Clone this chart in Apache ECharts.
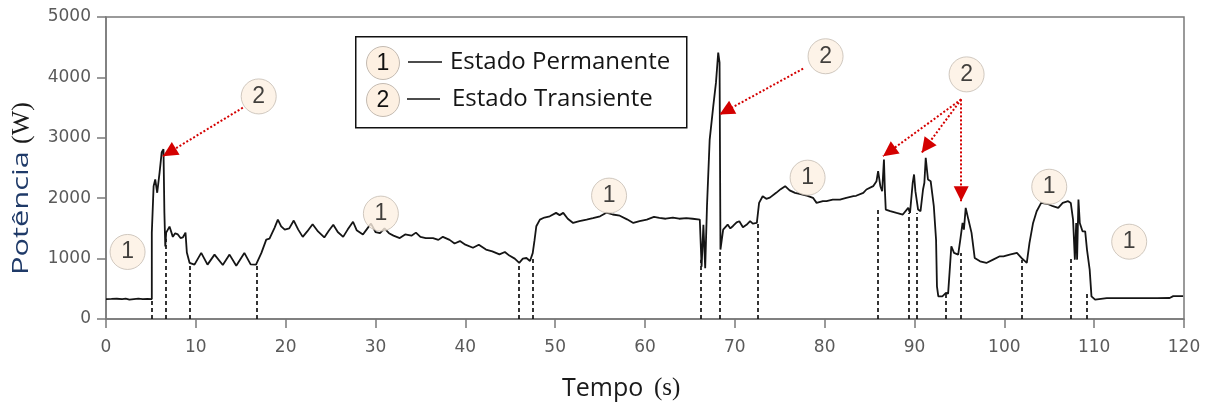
<!DOCTYPE html>
<html>
<head>
<meta charset="utf-8">
<script src="https://cdn.jsdelivr.net/npm/echarts@6/dist/echarts.min.js"></script>
<style>html,body{margin:0;padding:0;background:#fff}#c{width:1209px;height:405px}</style>
</head>
<body>
<div id="c"></div>
<script>
// ---- data ----
const timeS = [0,0.6,1.2,1.8,2.2,2.6,3.1,3.6,4.1,4.6,5.1,
5.1,5.3,5.48,5.7,5.96,6.2,6.4,6.5,6.6,6.7,7.07,7.44,7.7,8.0,8.3,8.55,8.85,9.0,9.3,9.85,10.6,11.3,12.08,13.0,13.75,14.5,15.4,16.1,16.7,
17.3,17.84,18.2,18.76,19.13,19.5,19.9,20.4,20.9,21.4,21.9,22.4,23.0,23.6,24.3,24.8,25.3,25.8,26.4,26.9,27.5,27.9,28.6,29.0,29.5,30.0,30.5,31.0,31.5,32.0,32.7,33.3,34.0,34.5,35.0,35.6,36.4,37.0,37.5,38.25,38.8,39.4,40.0,40.85,41.5,42.3,43.0,43.8,44.4,44.9,45.5,46.0,46.4,46.8,47.2,47.5,47.7,47.9,48.3,
48.8,49.4,50.1,50.5,50.9,51.4,52.0,52.7,53.5,54.2,55.0,55.7,56.4,57.2,58.0,58.7,59.4,60.2,61.0,61.6,62.3,63.1,63.8,64.6,65.3,66.1,
66.2,66.3,66.5,66.7,66.9,67.2,67.6,67.9,68.15,68.3,68.4,68.7,69.2,69.5,69.8,70.2,70.5,70.9,71.3,71.7,72.0,72.45,72.7,73.1,73.5,73.9,74.6,75.1,75.6,76.1,76.7,77.2,78.1,78.7,79.1,79.8,80.2,80.9,81.7,82.4,83.2,83.5,84.3,84.65,85.4,85.77,85.95,86.2,86.4,86.6,86.7,86.8,87.3,88.0,88.7,89.3,89.5,89.8,89.95,90.1,90.4,90.67,90.95,91.1,91.25,91.5,91.8,92.15,92.4,92.5,92.65,93.1,93.5,93.74,93.9,94.1,94.4,94.86,95.1,95.35,95.5,95.7,96.0,96.35,96.7,97.3,98.0,98.75,99.5,99.9,100.6,101.4,101.9,102.5,102.8,103.2,103.6,104.1,104.9,105.4,106.0,106.5,107.1,107.4,107.65,107.85,108.0,108.1,108.25,108.4,108.7,109.0,109.2,109.5,109.7,110.1,111.4,113,115,117,118.4,118.8,119.9];
const powerW = [330,332,335,330,338,322,330,336,330,332,330,
1430,2200,2310,2090,2420,2760,2810,1760,1200,1430,1530,1360,1420,1400,1340,1350,1430,1100,930,900,1094,900,1066,895,1066,883,1094,905,900,
1094,1315,1330,1509,1646,1535,1480,1500,1630,1480,1360,1450,1570,1450,1350,1460,1560,1440,1360,1480,1610,1470,1400,1480,1580,1440,1420,1500,1420,1380,1340,1400,1380,1430,1360,1340,1340,1310,1360,1310,1250,1290,1230,1180,1230,1150,1120,1070,1110,1050,1000,930,1000,1010,960,1090,1300,1535,1646,
1680,1700,1757,1720,1757,1660,1590,1620,1646,1670,1700,1760,1730,1710,1650,1590,1620,1646,1690,1673,1660,1680,1660,1670,1660,1646,
1640,867,1560,840,1867,2971,3525,3913,4410,4244,1149,1480,1563,1500,1540,1600,1618,1520,1560,1620,1580,1590,1923,2033,1990,2010,2089,2150,2199,2130,2089,2070,2040,2006,1923,1950,1950,1978,1978,2006,2033,2040,2089,2144,2199,2282,2448,2199,2116,2641,2144,1812,1785,1757,1730,1840,1757,2255,2393,2116,1812,1785,2144,2255,2669,2310,2282,1867,1315,541,375,375,431,420,763,1204,1094,1066,1315,1591,1480,1840,1646,1426,1011,955,928,983,1038,1038,1066,1094,1011,928,1260,1591,1784,1923,1900,1867,1840,1923,1950,1920,1646,983,1590,983,1978,1590,1452,1452,1149,817,375,320,345,345,345,345,348,378,380];

// steady/transient region boundaries (dashed lines): time and top power
const dashX   = [5.1,6.7,9.3,16.8,46.0,47.5,66.2,68.3,72.5,85.9,89.4,90.2,93.5,95.1,101.9,107.4,109.2];
const dashTop = [330,1330,930,900,930,1040,980,1150,1590,1840,1757,1757,431,1094,983,1038,431];

// circled labels
const annX    = [2.4,17.0,30.6,56.0,80.1,78.1,95.8,105.0,113.9];
const annY    = [1110,3685,1745,2043,4350,2340,4050,2190,1280];
const annText = ['1','2','1','1','2','1','2','1','1'];

// red dotted arrows: from -> to (tip)
const arrowFromX = [15.23,77.6,95.2,95.2,95.2];
const arrowFromY = [3498,4145,3636,3636,3636];
const arrowToX   = [6.33,68.3,86.5,90.8,95.2];
const arrowToY   = [2696,3387,2696,2752,1950];

const xTicks = {min:0, max:120, interval:10};
const yTicks = {min:0, max:5000, interval:1000};
const legendTexts = ['Estado Permanente','Estado Transiente'];
const legendNums = ['1','2'];
const yTitle = ['Potência','(W)'];
const xTitle = ['Tempo','(s)'];

// ---- chart ----
const lineData = timeS.map((t,i)=>[t,powerW[i]]);
const annData = annX.map((x,i)=>[x,annY[i],annText[i]]);
const dashData = dashX.map((x,i)=>[{coord:[x,0]},{coord:[x,dashTop[i]]}]);
const arrowData = arrowFromX.map((x,i)=>[{coord:[x,arrowFromY[i]]},{coord:[arrowToX[i],arrowToY[i]]}]);

const chart = echarts.init(document.getElementById('c'), null, {renderer:'canvas'});
const axisCol = '#7a7a7a';
const labelFont = {color:'#5a5a5a', fontFamily:'DejaVu Sans', fontSize:17};
const peach = '#fdf0e2', ring = '#c4bbb2';
const red = '#d40000';

const baseGraphic = [
    {type:'rect', left:355, top:36, shape:{width:331, height:91}, style:{fill:'#fff', stroke:'#111', lineWidth:1.5}, z:10},
    {type:'circle', shape:{cx:383, cy:63, r:16.5}, style:{fill:peach, stroke:ring, lineWidth:1}, z:11},
    {type:'circle', shape:{cx:383, cy:100, r:16.5}, style:{fill:peach, stroke:ring, lineWidth:1}, z:11},
    {type:'text', x:383, y:64, style:{text:legendNums[0], fill:'#111', font:'23px "Liberation Sans"', align:'center', verticalAlign:'middle'}, z:12},
    {type:'text', x:383, y:101, style:{text:legendNums[1], fill:'#111', font:'23px "Liberation Sans"', align:'center', verticalAlign:'middle'}, z:12},
    {type:'line', shape:{x1:408, y1:62, x2:442, y2:62}, style:{stroke:'#111', lineWidth:1.3}, z:11},
    {type:'line', shape:{x1:407, y1:99, x2:440, y2:99}, style:{stroke:'#111', lineWidth:1.3}, z:11},
    {type:'text', x:450, y:62, style:{text:legendTexts[0], fill:'#151515', font:'24px "Open Sans"', align:'left', verticalAlign:'middle'}, z:12},
    {type:'text', x:452, y:99, style:{text:legendTexts[1], fill:'#151515', font:'24px "Open Sans"', align:'left', verticalAlign:'middle'}, z:12},
    {type:'text', x:562, y:389, style:{text:xTitle[0], fill:'#1a1a1a', font:'25px "Open Sans"', align:'left', verticalAlign:'middle'}, z:12},
    {type:'text', x:654, y:388, style:{text:xTitle[1], fill:'#1a1a1a', font:'25px "Liberation Serif"', align:'left', verticalAlign:'middle'}, z:12},
    {type:'text', x:22, y:275, rotation:Math.PI/2, scaleX:1.4, style:{text:yTitle[0], fill:'#1f3a68', font:'22px "Open Sans"', align:'left', verticalAlign:'middle'}, z:12},
    {type:'text', x:22, y:144, rotation:Math.PI/2, style:{text:yTitle[1], fill:'#1a1a1a', font:'26px "Liberation Serif"', align:'left', verticalAlign:'middle'}, z:12}
];

chart.setOption({
  animation:false,
  grid:{left:106, right:25, top:17, bottom:86, show:true, borderColor:axisCol, borderWidth:1.5, backgroundColor:'transparent'},
  xAxis:{type:'value', min:xTicks.min, max:xTicks.max, interval:xTicks.interval,
    axisLine:{show:true, lineStyle:{color:axisCol, width:1.5}},
    axisTick:{show:true, length:9, lineStyle:{color:axisCol, width:1.5}},
    axisLabel:Object.assign({margin:20}, labelFont),
    splitLine:{show:false}},
  yAxis:{type:'value', min:yTicks.min, max:yTicks.max, interval:yTicks.interval,
    axisLine:{show:true, lineStyle:{color:axisCol, width:1.5}},
    axisTick:{show:true, length:9, lineStyle:{color:axisCol, width:1.5}},
    axisLabel:Object.assign({margin:15, formatter:v=>String(v)}, labelFont),
    splitLine:{show:false}},
  series:[
    {type:'line', data:lineData, symbol:'none', smooth:false, z:3,
      lineStyle:{color:'#151515', width:1.8},
      markLine:{silent:true, symbol:['none','none'], label:{show:false}, z:2,
        lineStyle:{color:'#111', width:1.7, type:[4,3]},
        data:dashData}},
    {type:'line', data:[], symbol:'none', z:5, color:red,
      markLine:{silent:true, symbol:['none','none'], label:{show:false}, z:5,
        lineStyle:{color:red, width:2, type:[2,2]},
        data:arrowData}},
    {type:'scatter', data:annData, symbol:'circle', symbolSize:35, z:6,
      itemStyle:{color:peach, borderColor:ring, borderWidth:1},
      label:{show:true, position:'inside', formatter:p=>p.value[2], color:'#111', fontFamily:'Liberation Sans', fontSize:23}}
  ],
  graphic: baseGraphic
});

// arrowheads: placed through the chart's own scales
function heads(){
  const g = [];
  for (let i=0;i<arrowToX.length;i++){
    const a = chart.convertToPixel({gridIndex:0},[arrowFromX[i],arrowFromY[i]]);
    const b = chart.convertToPixel({gridIndex:0},[arrowToX[i],arrowToY[i]]);
    const dx=b[0]-a[0], dy=b[1]-a[1], L=Math.hypot(dx,dy), ux=dx/L, uy=dy/L;
    const len=15, half=7.5;
    const bx=b[0]-ux*len, by=b[1]-uy*len;
    g.push({type:'polygon', z:7, shape:{points:[[b[0],b[1]],[bx-uy*half,by+ux*half],[bx+uy*half,by-ux*half]]}, style:{fill:red}});
  }
  return g;
}
chart.setOption({graphic: baseGraphic.concat(heads())});
</script>
</body>
</html>
